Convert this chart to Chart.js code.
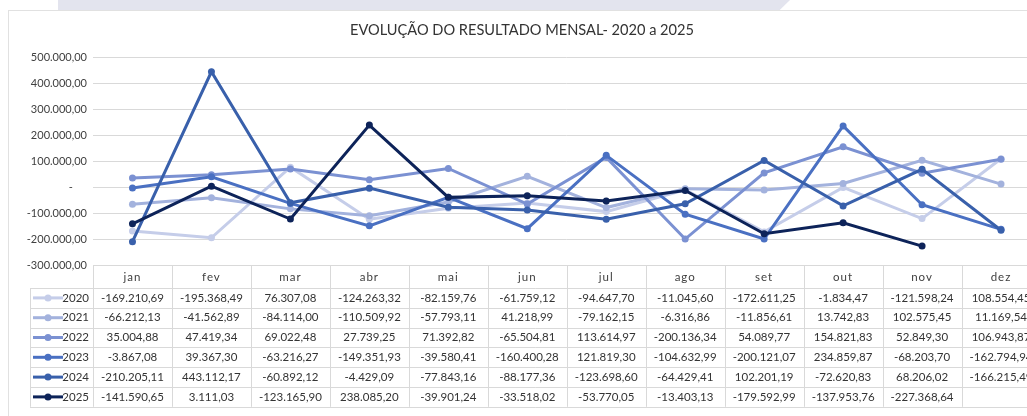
<!DOCTYPE html>
<html>
<head>
<meta charset="utf-8">
<script src="https://cdn.jsdelivr.net/npm/chart.js@4"></script>
<style>
  html, body { margin: 0; padding: 0; background: #fff; overflow: hidden; }
  #banner { position: absolute; left: 58px; top: 0; width: 732px; height: 10px; background: #e3e4ee;
            clip-path: polygon(0 0, 100% 0, 98.6% 100%, 0 100%); }
  #frame { position: absolute; left: 8px; top: 10px; width: 1040px; height: 420px; border: 1px solid #e1e1e1; }
  #chart { position: absolute; left: 0; top: 0; }
</style>
</head>
<body>
<div id="banner"></div>
<div id="frame"></div>
<canvas id="chart" width="1044" height="416"></canvas>
<script>
var months = ['jan', 'fev', 'mar', 'abr', 'mai', 'jun', 'jul', 'ago', 'set', 'out', 'nov', 'dez'];
var years = ['2020', '2021', '2022', '2023', '2024', '2025'];
var colors = ['#c5cde9', '#a3b2dd', '#7b91d2', '#4a70c2', '#3960ab', '#0d2359'];

var r2020 = [-169210.69, -195368.49, 76307.08, -124263.32, -82159.76, -61759.12, -94647.70, -11045.60, -172611.25, -1834.47, -121598.24, 108554.45];
var r2021 = [-66212.13, -41562.89, -84114.00, -110509.92, -57793.11, 41218.99, -79162.15, -6316.86, -11856.61, 13742.83, 102575.45, 11169.54];
var r2022 = [35004.88, 47419.34, 69022.48, 27739.25, 71392.82, -65504.81, 113614.97, -200136.34, 54089.77, 154821.83, 52849.30, 106943.87];
var r2023 = [-3867.08, 39367.30, -63216.27, -149351.93, -39580.41, -160400.28, 121819.30, -104632.99, -200121.07, 234859.87, -68203.70, -162794.94];
var r2024 = [-210205.11, 443112.17, -60892.12, -4429.09, -77843.16, -88177.36, -123698.60, -64429.41, 102201.19, -72620.83, 68206.02, -166215.49];
var r2025 = [-141590.65, 3111.03, -123165.90, 238085.20, -39901.24, -33518.02, -53770.05, -13403.13, -179592.99, -137953.76, -227368.64, null];
var series = [r2020, r2021, r2022, r2023, r2024, r2025];

var yTicks = { min: -300000, max: 500000, step: 100000 };

function fmt(v) {
  return v.toLocaleString('pt-BR', { minimumFractionDigits: 2, maximumFractionDigits: 2 });
}

var FONT = 'Lato, "Open Sans", sans-serif';

// title + data table underneath the plot
var tablePlugin = {
  id: 'dataTable',
  afterDraw: function (chart) {
    var ctx = chart.ctx, area = chart.chartArea, x = chart.scales.x;
    var w = x.getPixelForValue(1) - x.getPixelForValue(0);
    var top = area.bottom, headH = 23, rowH = 19.8;
    var legL = 30, left = area.left, right = x.getPixelForValue(months.length - 1) + w / 2;
    var bottom = top + headH + rowH * years.length;

    ctx.save();
    ctx.fillStyle = '#333333';
    ctx.font = '14.6px ' + FONT;
    ctx.textAlign = 'center';
    ctx.textBaseline = 'middle';
    ctx.fillText('EVOLUÇÃO DO RESULTADO MENSAL- 2020 a 2025', chart.width / 2, 30);

    ctx.strokeStyle = '#d9d9d9';
    ctx.lineWidth = 1;
    ctx.beginPath();
    ctx.moveTo(left, top + 0.5); ctx.lineTo(right, top + 0.5);
    for (var i = 0; i <= years.length; i++) {
      var yy = Math.round(top + headH + rowH * i) + 0.5;
      ctx.moveTo(legL, yy); ctx.lineTo(right, yy);
    }
    for (var j = 0; j <= months.length; j++) {
      var xx = Math.round(x.getPixelForValue(j) - w / 2) + 0.5;
      ctx.moveTo(xx, top); ctx.lineTo(xx, bottom);
    }
    ctx.moveTo(legL + 0.5, top + headH); ctx.lineTo(legL + 0.5, bottom);
    ctx.stroke();

    ctx.fillStyle = '#404040';
    ctx.font = '11.5px ' + FONT;
    ctx.letterSpacing = '1px';
    months.forEach(function (m, k) {
      ctx.fillText(m, x.getPixelForValue(k), top + headH / 2 + 1);
    });
    ctx.letterSpacing = '0px';

    ctx.font = '11.5px ' + FONT;
    years.forEach(function (yr, r) {
      var cy = top + headH + rowH * r + rowH / 2;
      ctx.strokeStyle = colors[r];
      ctx.lineWidth = 3;
      ctx.beginPath(); ctx.moveTo(33, cy); ctx.lineTo(63, cy); ctx.stroke();
      ctx.fillStyle = colors[r];
      ctx.beginPath(); ctx.arc(48, cy, 3.5, 0, Math.PI * 2); ctx.fill();
      ctx.fillStyle = '#333333';
      ctx.textAlign = 'right';
      ctx.fillText(yr, 89, cy);
      ctx.textAlign = 'center';
      series[r].forEach(function (v, k) {
        if (v !== null) ctx.fillText(fmt(v), x.getPixelForValue(k), cy);
      });
    });
    ctx.restore();
  }
};

new Chart(document.getElementById('chart').getContext('2d'), {
  type: 'line',
  data: {
    labels: months,
    datasets: years.map(function (yr, i) {
      return {
        label: yr,
        data: series[i],
        borderColor: colors[i],
        backgroundColor: colors[i],
        borderWidth: 3,
        pointRadius: 3.5,
        pointBorderWidth: 0,
        pointHoverRadius: 3.5,
        tension: 0,
        order: years.length - i
      };
    })
  },
  options: {
    responsive: false,
    animation: false,
    layout: { padding: { top: 57, left: 0, right: 3, bottom: 151 } },
    plugins: { legend: { display: false }, title: { display: false }, tooltip: { enabled: false } },
    scales: {
      x: { display: false, offset: true },
      y: {
        min: yTicks.min,
        max: yTicks.max,
        afterFit: function (s) { s.width = 93; },
        border: { display: false },
        grid: { color: '#d9d9d9', drawTicks: false },
        ticks: {
          stepSize: yTicks.step,
          padding: 6,
          color: '#404040',
          font: { family: FONT, size: 11 },
          callback: function (v) { return v === 0 ? '-     ' : fmt(v); }
        }
      }
    }
  },
  plugins: [tablePlugin]
});
</script>
</body>
</html>
